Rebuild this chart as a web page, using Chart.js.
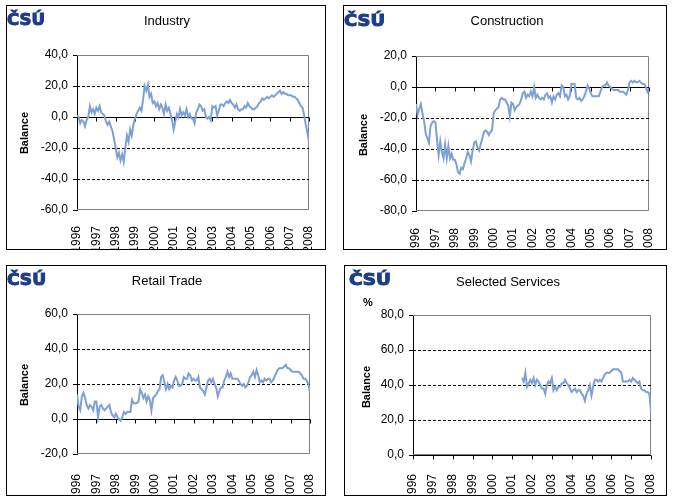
<!DOCTYPE html>
<html lang="en">
<head>
<meta charset="UTF-8">
<title>Business tendency balances</title>
<script src="https://cdn.jsdelivr.net/npm/chart.js"></script>
<style>
  body { margin: 0; background: #fff; }
  .panel { position: absolute; border: 1px solid #000; background: #fff; }
  .panel canvas { display: block; }
</style>
</head>
<body>

<div class="panel" style="left:6px;top:5px;width:318px;height:243px"><canvas id="industryChart" width="318" height="243"></canvas></div>
<div class="panel" style="left:343px;top:5px;width:322px;height:243px"><canvas id="constructionChart" width="322" height="243"></canvas></div>
<div class="panel" style="left:6px;top:265px;width:318px;height:229px"><canvas id="retailChart" width="318" height="229"></canvas></div>
<div class="panel" style="left:344px;top:265px;width:321px;height:229px"><canvas id="servicesChart" width="321" height="229"></canvas></div>

<script>
// year labels under the month axis (one tick every 12 months, Jan 1996 = month 0)
var years = ['1996', '1997', '1998', '1999', '2000', '2001', '2002', '2003', '2004', '2005', '2006', '2007', '2008'];

// monthly balances, Jan 1996 .. Jan 2008
var industry = [
    1, 0, -4, -2, -3, -6, -2, 0, 7, 3, 5, 2,            // 1996
    6, 4, 7, 3, 2, 1, -3, -5, -3, -6, -9, -14,          // 1997
    -20, -26, -23, -28, -24, -29, -20, -12, -16, -8, -12, -5, // 1998
    -1, 2, 4, 6, 4, 11, 20, 17, 21, 13, 15, 9,          // 1999
    10, 7, 9, 5, 8, 6, 2, 8, 4, 6, 2, -2,               // 2000
    -8, -3, 2, 0, 5, 1, 3, 1, 5, 0, 2, -1,              // 2001
    -1, -4, 3, 5, 8, 7, 4, 5, 0, -1, 0, -2,             // 2002
    7, 6, 7, 1, 4, 8, 8, 7, 9, 10, 9, 11,               // 2003
    9, 8, 6, 8, 5, 4, 5, 5, 7, 6, 9, 7,                 // 2004
    6, 5, 5, 6, 7, 9, 10, 12, 11, 12, 13, 12,           // 2005
    13, 14, 13, 14, 15, 16, 17, 15, 16, 15, 15, 14,     // 2006
    14, 14, 13, 13, 12, 11, 9, 7, 6, 1, -5, -10,        // 2007
    -16                                                 // 2008
];
var construction = [
    -11, -18, -14, -11, -17, -22, -30, -33, -36, -25, -23, -22,
    -23, -34, -44, -35, -42, -46, -37, -46, -38, -46, -43, -47,
    -47, -50, -55, -56, -52, -53, -49, -46, -42, -44, -48, -41,
    -36, -35, -39, -41, -37, -33, -29, -28, -29, -31, -29, -28,
    -17, -15, -14, -13, -8, -7, -8, -8, -10, -12, -19, -10,
    -11, -15, -13, -12, -11, -8, -4, -3, -7, -5, -6, -3,
    -6, 0, -7, -5, -7, -8, -7, -8, -5, -4, -7, -6,
    -10, -6, -8, -5, -4, -6, 1, 0, -6, -5, -8, -6,
    2, 2, 2, -7, -8, -7, -9, -8, -6, -3, 1, -1,
    -4, -6, -6, -6, -6, -6, -3, 0, 1, 1, 3, 1,
    0, -1, -2, -2, -2, -2, -3, -3, -3, -4, -5, -2,
    3, 4, 3, 4, 3, 3, 4, 3, 2, 2, 0, -3,
    -1
];
var retail = [
    14, 7, 5, 13, 15, 12, 8, 6, 8, 7, 5, 10,
    10, 1, 7, 8, 6, 5, 6, 7, 8, 4, 2, 1,
    3, 1, 0, -1, 1, 4, 3, 4, 4, 4, 11, 9,
    9, 9, 10, 17, 15, 12, 14, 10, 13, 11, 5, 12,
    13, 14, 16, 17, 24, 25, 21, 17, 20, 17, 19, 18,
    22, 24, 22, 19, 19, 20, 24, 23, 23, 26, 25, 22,
    23, 22, 22, 24, 18, 17, 16, 14, 18, 22, 23, 21,
    23, 20, 18, 13, 16, 18, 18, 22, 24, 27, 24, 26,
    23, 23, 23, 23, 22, 20, 19, 20, 18, 19, 21, 24,
    25, 27, 24, 28, 25, 21, 22, 21, 23, 22, 23, 23,
    21, 22, 24, 26, 28, 29, 29, 29, 30, 31, 29, 29,
    28, 27, 27, 27, 27, 27, 26, 25, 23, 23, 22, 20,
    15
];
// services survey starts in Jul 2001 (month 66)
var servicesStart = 66;
var services = [
    44, 42, 47, 39, 41, 43,                             // 2001 H2
    41, 44, 40, 43, 42, 40, 38, 38, 35, 40, 42, 41,
    44, 37, 39, 37, 39, 39, 41, 41, 43, 41, 40, 38,
    36, 37, 38, 36, 37, 37, 35, 34, 31, 35, 37, 40,
    34, 39, 43, 43, 42, 43, 42, 44, 46, 47, 47, 47,
    48, 49, 49, 49, 49, 48, 47, 42, 42, 42, 42, 43,
    42, 44, 43, 42, 41, 42, 38, 37, 37, 36, 36, 35,
    25
];

Chart.defaults.font.family = "'Liberation Sans', Arial, sans-serif";
Chart.defaults.font.size = 12;
Chart.defaults.color = '#000';

// frame, dashed gridlines, zero axis, titles and logo
var panelDecor = {
    id: 'panelDecor',
    beforeDatasetsDraw: function(chart, args, o) {
        var ctx = chart.ctx, a = chart.chartArea, x = chart.scales.x, y = chart.scales.y;
        ctx.save();
        ctx.lineWidth = 1;
        ctx.strokeStyle = '#808080';
        ctx.beginPath();
        ctx.moveTo(a.left, a.top + 0.5);
        ctx.lineTo(a.right - 0.5, a.top + 0.5);
        ctx.lineTo(a.right - 0.5, a.bottom - 0.5);
        ctx.lineTo(a.left, a.bottom - 0.5);
        ctx.stroke();

        ctx.strokeStyle = '#000';
        ctx.setLineDash([3, 2]);
        y.ticks.forEach(function(t) {
            if (t.value === 0 || t.value === y.min || t.value === y.max) return;
            var py = Math.round(y.getPixelForValue(t.value)) + 0.5;
            ctx.beginPath();
            ctx.moveTo(a.left, py);
            ctx.lineTo(a.right, py);
            ctx.stroke();
        });
        ctx.setLineDash([]);

        // category axis crosses at zero, tick marks pointing down
        var zy = Math.round(y.getPixelForValue(0)) + 0.5;
        ctx.beginPath();
        ctx.moveTo(a.left, zy);
        ctx.lineTo(a.right, zy);
        x.ticks.forEach(function(t) {
            var px = Math.round(x.getPixelForValue(t.value)) + 0.5;
            ctx.moveTo(px, zy);
            ctx.lineTo(px, zy + 4);
        });
        ctx.stroke();
        ctx.restore();
    },
    afterDraw: function(chart, args, o) {
        var ctx = chart.ctx;
        ctx.save();
        ctx.fillStyle = '#000';
        ctx.font = "13px 'Liberation Sans', Arial, sans-serif";
        ctx.textAlign = 'center';
        ctx.textBaseline = 'middle';
        ctx.fillText(o.title, o.titleX, o.titleY);

        ctx.save();
        ctx.translate(o.balX, o.balY);
        ctx.rotate(-Math.PI / 2);
        ctx.font = "bold 11px 'Liberation Sans', Arial, sans-serif";
        ctx.fillText('Balance', 0, 0);
        ctx.restore();

        if (o.unit) {
            ctx.font = "bold 11px 'Liberation Sans', Arial, sans-serif";
            ctx.fillText(o.unit, o.unitX, o.unitY);
        }

        // ČSÚ logo
        ctx.font = "bold 15px 'DejaVu Sans', sans-serif";
        ctx.textAlign = 'left';
        ctx.textBaseline = 'alphabetic';
        var w = ctx.measureText('ČSÚ').width;
        ctx.translate(o.logoX, o.logoY);
        ctx.scale(o.logoW / w, 1);
        ctx.fillStyle = '#1d3d8a';
        ctx.strokeStyle = '#1d3d8a';
        ctx.lineWidth = 1;
        ctx.fillText('ČSÚ', 0, 0);
        ctx.strokeText('ČSÚ', 0, 0);
        ctx.restore();
    }
};

function makeChart(id, series, start, p) {
    var points = series.map(function(v, i) { return { x: start + i, y: v }; });
    return new Chart(document.getElementById(id), {
        type: 'line',
        data: {
            datasets: [{
                data: points,
                borderColor: '#7da0d7',
                borderWidth: 2,
                pointRadius: 0,
                tension: 0,
                fill: false
            }]
        },
        options: {
            responsive: false,
            animation: false,
            layout: { padding: { top: p.top, right: p.right, left: 0, bottom: 0 } },
            plugins: {
                legend: { display: false },
                tooltip: { enabled: false },
                panelDecor: p
            },
            scales: {
                x: {
                    type: 'linear',
                    min: 0,
                    max: 144,
                    afterFit: function(s) {
                        s.height = p.xh;
                        s.paddingLeft = 0;
                        s.paddingRight = 0;
                    },
                    ticks: {
                        stepSize: 12,
                        autoSkip: false,
                        minRotation: 90,
                        maxRotation: 90,
                        padding: p.xpad,
                        callback: function(v) { return years[v / 12]; }
                    },
                    grid: { display: false },
                    border: { display: false }
                },
                y: {
                    min: p.min,
                    max: p.max,
                    afterFit: function(s) { s.width = p.left; },
                    ticks: {
                        stepSize: 20,
                        padding: 5,
                        callback: function(v) { return v.toFixed(1).replace('.', ','); }
                    },
                    grid: { drawOnChartArea: false, tickLength: 4, tickColor: '#000' },
                    border: { color: '#000' }
                }
            }
        },
        plugins: [panelDecor]
    });
}

makeChart('industryChart', industry, 0, {
    top: 49, right: 16, left: 70, xh: 39, xpad: 8, min: -60, max: 40,
    title: 'Industry', titleX: 160, titleY: 15,
    balX: 18, balY: 127, logoX: 0, logoY: 19, logoW: 38
});
makeChart('constructionChart', construction, 0, {
    top: 50, right: 17, left: 72, xh: 38, xpad: 9, min: -80, max: 20,
    title: 'Construction', titleX: 163, titleY: 15,
    balX: 20, balY: 129, logoX: 0, logoY: 20, logoW: 41
});
makeChart('retailChart', retail, 0, {
    top: 48, right: 15, left: 70, xh: 41, xpad: 12, min: -20, max: 60,
    title: 'Retail Trade', titleX: 160, titleY: 15,
    balX: 18, balY: 119, logoX: 0, logoY: 19, logoW: 39
});
makeChart('servicesChart', services, servicesStart, {
    top: 49, right: 15, left: 68, xh: 40, xpad: 11, min: 0, max: 80,
    title: 'Selected Services', titleX: 163, titleY: 16,
    balX: 22, balY: 121, logoX: 4, logoY: 19, logoW: 42,
    unit: '%', unitX: 23, unitY: 37
});
</script>

</body>
</html>
